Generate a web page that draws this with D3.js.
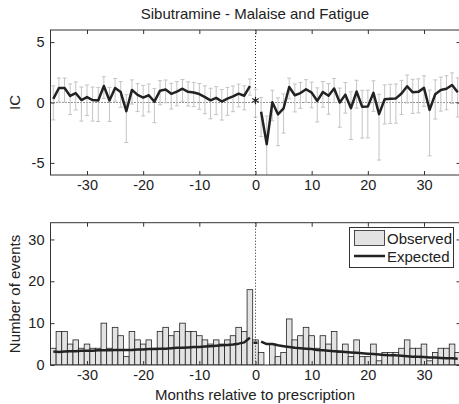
<!DOCTYPE html>
<html>
<head>
<meta charset="utf-8">
<script src="https://cdn.jsdelivr.net/npm/d3@7"></script>
<style>
  body { margin: 0; background: #fff; }
  text { font-family: "Liberation Sans", Arial, sans-serif; }
</style>
</head>
<body>
<svg id="chart" width="459" height="404"></svg>
<script>
// months relative to prescription
var months = [-36,-35,-34,-33,-32,-31,-30,-29,-28,-27,-26,-25,-24,-23,-22,-21,-20,-19,-18,-17,
  -16,-15,-14,-13,-12,-11,-10,-9,-8,-7,-6,-5,-4,-3,-2,-1,0,
  1,2,3,4,5,6,7,8,9,10,11,12,13,14,15,16,17,18,19,20,
  21,22,23,24,25,26,27,28,29,30,31,32,33,34,35,36];

// number of events observed / expected per month
var observed = [4,8,8,5,6,4,5,4,4,10, 4,9,7,2,8,6,5,6,4,8, 9,7,8,10,8,8,7,6,5,6, 5,6,7,9,8,18,
  6,
  3,0,5,2,3,11,6,7,9,7, 4,7,5,8,3,5,2,6,2,2, 5,1,3,3,3,4,6,4,4,5, 1,3,4,4,5,3];
var expected = [3.2,3.1,3.2,3.3,3.3,3.4,3.4,3.4,3.5,3.5, 3.5,3.6,3.6,3.6,3.6,3.7,3.7,3.8,3.8,3.9,
  3.9,4.0,4.1,4.1,4.2,4.3,4.3,4.4,4.5,4.6, 4.7,4.8,4.9,5.1,5.4,6.5,
  5.3,
  5.6,5.0,5.0,4.7,4.5,4.3,4.1,4.0,3.9,3.8, 3.6,3.5,3.4,3.3,3.2,3.1,3.0,2.9,2.8,2.7,
  2.6,2.5,2.4,2.3,2.3,2.2,2.1,2.0,2.0,1.9, 1.8,1.8,1.7,1.6,1.6,1.5];

// information component with its credibility interval
var ic = [0.3,1.2,1.2,0.54,0.77,0.2,0.45,0.2,0.17,1.37, 0.17,1.2,0.86,-0.72,1.04,0.63,0.41,0.6,0.07,0.98,
  1.07,0.72,0.9,1.14,0.88,0.83,0.7,0.45,0.18,0.38, 0.08,0.32,0.5,0.73,0.56,1.35,
  0.17,
  -0.77,-3.45,0.02,-0.98,-0.48,1.28,0.6,0.78,1.1,0.82, 0.13,0.87,0.56,1.16,0.0,0.65,-0.47,0.91,-0.36,-0.34,
  0.8,-0.96,0.27,0.32,0.34,0.75,1.34,0.84,0.88,1.21, -0.61,0.68,1.03,1.14,1.45,0.85];
var icLow = [-1.44,0.03,0.03,-0.99,-0.61,-1.54,-1.08,-1.54,-1.57,0.34, -1.57,0.11,-0.40,-3.31,-0.13,-0.75,-1.12,-0.78,-1.67,-0.19,
  -0.02,-0.54,-0.27,0.11,-0.29,-0.34,-0.56,-0.93,-1.35,-1.0, -1.45,-1.06,-0.76,-0.36,-0.61,0.61,
  -1.21,
  -2.82,-8,-1.51,-3.57,-2.53,0.30,-0.78,-0.48,0.01,-0.44, -1.61,-0.39,-0.97,-0.01,-2.05,-0.88,-3.06,-0.47,-2.95,-2.93,
  -0.73,-4.76,-1.78,-1.73,-1.71,-0.99,-0.04,-0.90,-0.86,-0.32, -4.41,-1.37,-0.71,-0.60,-0.08,-1.2];
var icHigh = [1.38,2.03,2.03,1.54,1.70,1.28,1.45,1.28,1.25,2.13, 1.25,1.99,1.73,0.64,1.87,1.56,1.41,1.53,1.15,1.81,
  1.86,1.59,1.73,1.90,1.71,1.66,1.57,1.38,1.18,1.31, 1.08,1.25,1.37,1.52,1.39,1.94,
  1.10,
  0.42,-1.12,1.02,0.38,0.71,2.01,1.53,1.65,1.89,1.69, 1.21,1.74,1.56,1.99,1.19,1.65,0.89,1.84,1.0,1.02,
  1.80,0.68,1.46,1.51,1.53,1.83,2.27,1.92,1.96,2.21, 1.03,1.87,2.11,2.22,2.45,2.04];

var xTicks = [-30,-20,-10,0,10,20,30];
var icTicks = [-5,0,5];
var countTicks = [0,10,20,30];

var data = months.map(function(m, i) {
  return {m: m, o: observed[i], e: expected[i], ic: ic[i], lo: icLow[i], hi: icHigh[i]};
});

var ink = "#222";
var svg = d3.select("#chart");
// plain hyphen minus, like the original
var fmt = function(d) { return String(d); };

var left = 50.5, right = 460.5;
var x = d3.scaleLinear().domain([-36.5, 36.5]).range([left, right]);
var yIC = d3.scaleLinear().domain([-6, 6]).range([175, 30]);
var yN = d3.scaleLinear().domain([0, 34]).range([365, 222.7]);

// clip areas for the two panels
var defs = svg.append("defs");
defs.append("clipPath").attr("id", "clipTop").append("rect")
  .attr("x", left).attr("y", 30).attr("width", right - left).attr("height", 145);
defs.append("clipPath").attr("id", "clipBot").append("rect")
  .attr("x", left).attr("y", yN(34)).attr("width", right - left).attr("height", yN(0) - yN(34));

// ---------- top panel: IC ----------
var icPanel = svg.append("g").attr("clip-path", "url(#clipTop)");

icPanel.append("line")
  .attr("x1", left).attr("x2", right)
  .attr("y1", yIC(0)).attr("y2", yIC(0))
  .attr("stroke", ink).attr("stroke-dasharray", "1,2");
icPanel.append("line")
  .attr("x1", x(0)).attr("x2", x(0))
  .attr("y1", 30).attr("y2", 175)
  .attr("stroke", ink).attr("stroke-dasharray", "1,2");

var eb = icPanel.selectAll(".eb").data(data).enter().append("g").attr("class", "eb")
  .attr("stroke", "#c4c4c4").attr("stroke-width", 1);
eb.append("line")
  .attr("x1", function(d) { return x(d.m); }).attr("x2", function(d) { return x(d.m); })
  .attr("y1", function(d) { return yIC(d.lo); }).attr("y2", function(d) { return yIC(d.hi); });
eb.append("line")
  .attr("x1", function(d) { return x(d.m) - 2; }).attr("x2", function(d) { return x(d.m) + 2; })
  .attr("y1", function(d) { return yIC(d.lo); }).attr("y2", function(d) { return yIC(d.lo); });
eb.append("line")
  .attr("x1", function(d) { return x(d.m) - 2; }).attr("x2", function(d) { return x(d.m) + 2; })
  .attr("y1", function(d) { return yIC(d.hi); }).attr("y2", function(d) { return yIC(d.hi); });

icPanel.append("path")
  .datum(data)
  .attr("fill", "none")
  .attr("stroke", ink)
  .attr("stroke-width", 2.5)
  .attr("stroke-linejoin", "round")
  .attr("d", d3.line()
    .defined(function(d) { return d.m !== 0; })
    .x(function(d) { return x(d.m); })
    .y(function(d) { return yIC(d.ic); }));

icPanel.append("path")
  .attr("transform", "translate(" + x(0) + "," + yIC(data[36].ic) + ")")
  .attr("d", d3.symbol(d3.symbolAsterisk, 40)())
  .attr("fill", "none").attr("stroke", ink).attr("stroke-width", 1.2);

// axes of the top panel
svg.append("g").attr("transform", "translate(0,175)")
  .call(d3.axisBottom(x).tickValues(xTicks).tickFormat(fmt).tickSize(-4).tickSizeOuter(0).tickPadding(5));
svg.append("g").attr("transform", "translate(0,30)")
  .call(d3.axisTop(x).tickValues(xTicks).tickSize(-4).tickSizeOuter(0).tickFormat(""));
svg.append("g").attr("transform", "translate(" + left + ",0)")
  .call(d3.axisLeft(yIC).tickValues(icTicks).tickFormat(fmt).tickSize(-4).tickSizeOuter(0).tickPadding(6));
svg.append("g").attr("transform", "translate(" + right + ",0)")
  .call(d3.axisRight(yIC).tickValues(icTicks).tickSize(-4).tickSizeOuter(0).tickFormat(""));

svg.append("rect")
  .attr("x", left).attr("y", 30).attr("width", right - left).attr("height", 145)
  .attr("fill", "none").attr("stroke", "#333").attr("stroke-width", 1);

// ---------- bottom panel: counts ----------
var countPanel = svg.append("g").attr("clip-path", "url(#clipBot)");
var bw = x(1) - x(0);

countPanel.selectAll(".bar").data(data).enter().append("rect")
  .attr("class", "bar")
  .attr("x", function(d) { return x(d.m - 0.5); })
  .attr("width", bw)
  .attr("y", function(d) { return yN(d.o); })
  .attr("height", function(d) { return yN(0) - yN(d.o); })
  .attr("fill", "#e3e3e3")
  .attr("stroke", ink)
  .attr("stroke-width", 0.8);

countPanel.append("line")
  .attr("x1", x(0)).attr("x2", x(0))
  .attr("y1", yN(34)).attr("y2", yN(0))
  .attr("stroke", ink).attr("stroke-dasharray", "1,2");

countPanel.append("path")
  .datum(data)
  .attr("fill", "none")
  .attr("stroke", ink)
  .attr("stroke-width", 2.5)
  .attr("stroke-linejoin", "round")
  .attr("d", d3.line()
    .defined(function(d) { return d.m !== 0; })
    .x(function(d) { return x(d.m); })
    .y(function(d) { return yN(d.e); }));

countPanel.append("line")
  .attr("x1", x(0) - 2).attr("x2", x(0) + 2)
  .attr("y1", yN(data[36].e)).attr("y2", yN(data[36].e))
  .attr("stroke", ink).attr("stroke-width", 2.5);

svg.append("g").attr("transform", "translate(0,365)")
  .call(d3.axisBottom(x).tickValues(xTicks).tickFormat(fmt).tickSize(-4).tickSizeOuter(0).tickPadding(5));
svg.append("g").attr("transform", "translate(0," + yN(34) + ")")
  .call(d3.axisTop(x).tickValues(xTicks).tickSize(-4).tickSizeOuter(0).tickFormat(""));
svg.append("g").attr("transform", "translate(" + left + ",0)")
  .call(d3.axisLeft(yN).tickValues(countTicks).tickFormat(fmt).tickSize(-4).tickSizeOuter(0).tickPadding(6));
svg.append("g").attr("transform", "translate(" + right + ",0)")
  .call(d3.axisRight(yN).tickValues(countTicks).tickSize(-4).tickSizeOuter(0).tickFormat(""));

svg.append("rect")
  .attr("x", left).attr("y", yN(34)).attr("width", right - left).attr("height", yN(0) - yN(34))
  .attr("fill", "none").attr("stroke", "#333").attr("stroke-width", 1);

// tidy the axes: no domain line, MATLAB-like labels
svg.selectAll(".domain").remove();
svg.selectAll(".tick line").attr("stroke", "#333");
svg.selectAll(".tick text").attr("font-size", 14.5).attr("fill", ink)
  .attr("font-family", "'Liberation Sans', Arial, sans-serif");

// legend
var lg = svg.append("g");
lg.append("rect").attr("x", 349.5).attr("y", 227.5).attr("width", 104).attr("height", 40)
  .attr("fill", "#fff").attr("stroke", "#333");
lg.append("rect").attr("x", 354.5).attr("y", 230.5).attr("width", 30).attr("height", 15)
  .attr("fill", "#e3e3e3").attr("stroke", ink).attr("stroke-width", 0.8);
lg.append("line").attr("x1", 354).attr("x2", 385).attr("y1", 256).attr("y2", 256)
  .attr("stroke", ink).attr("stroke-width", 2.5);
lg.append("text").attr("x", 387).attr("y", 243.5).attr("font-size", 15).attr("fill", ink).text("Observed");
lg.append("text").attr("x", 387).attr("y", 262).attr("font-size", 15).attr("fill", ink).text("Expected");

// titles
svg.append("text").attr("x", 255).attr("y", 18.5).attr("text-anchor", "middle")
  .attr("font-size", 15).attr("fill", ink).text("Sibutramine - Malaise and Fatigue");
svg.append("text").attr("transform", "translate(20,102.5) rotate(-90)").attr("text-anchor", "middle")
  .attr("font-size", 15).attr("fill", ink).text("IC");
svg.append("text").attr("transform", "translate(20,294) rotate(-90)").attr("text-anchor", "middle")
  .attr("font-size", 15).attr("fill", ink).text("Number of events");
svg.append("text").attr("x", 255).attr("y", 400).attr("text-anchor", "middle")
  .attr("font-size", 15).attr("fill", ink).text("Months relative to prescription");
</script>
</body>
</html>
